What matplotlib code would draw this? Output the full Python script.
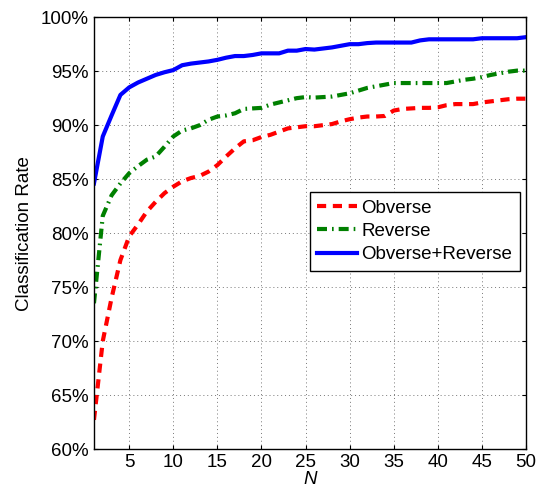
import matplotlib
matplotlib.use("Agg")
import matplotlib.pyplot as plt
from matplotlib.ticker import FuncFormatter

plt.rcParams['font.family'] = ['Liberation Sans', 'DejaVu Sans']

N = list(range(1, 51))
obverse = [62.7, 70.0, 74.0, 77.5, 79.7, 80.8, 82.0, 82.9, 83.7, 84.3,
           84.8, 85.1, 85.3, 85.7, 86.3, 87.1, 87.85, 88.5, 88.6, 88.9,
           89.1, 89.4, 89.7, 89.8, 89.9, 89.9, 90.0, 90.1, 90.35, 90.55,
           90.7, 90.8, 90.8, 90.85, 91.35, 91.5, 91.55, 91.6, 91.6, 91.65,
           91.85, 91.95, 91.95, 91.95, 92.1, 92.2, 92.3, 92.4, 92.45, 92.45]
reverse = [73.5, 81.6, 83.5, 84.6, 85.55, 86.2, 86.8, 87.1, 88.0, 88.95,
           89.5, 89.7, 90.0, 90.5, 90.8, 90.9, 91.1, 91.5, 91.55, 91.6,
           91.9, 92.1, 92.3, 92.5, 92.6, 92.55, 92.6, 92.65, 92.8, 92.95,
           93.2, 93.45, 93.6, 93.75, 93.9, 93.9, 93.9, 93.9, 93.9, 93.9,
           93.9, 94.05, 94.2, 94.3, 94.45, 94.65, 94.8, 94.95, 95.05, 95.05]
combined = [84.6, 88.95, 90.9, 92.8, 93.5, 93.95, 94.3, 94.65, 94.9, 95.1,
            95.55, 95.7, 95.8, 95.9, 96.05, 96.25, 96.4, 96.4, 96.5, 96.65,
            96.65, 96.65, 96.9, 96.9, 97.05, 97.0, 97.1, 97.2, 97.35, 97.5,
            97.5, 97.6, 97.65, 97.65, 97.65, 97.65, 97.65, 97.85, 97.95, 97.95,
            97.95, 97.95, 97.95, 97.95, 98.05, 98.05, 98.05, 98.05, 98.05, 98.15]
labels = ['Obverse', 'Reverse', 'Obverse+Reverse']
xticks = [5, 10, 15, 20, 25, 30, 35, 40, 45, 50]
yticks = [60, 65, 70, 75, 80, 85, 90, 95, 100]

fig = plt.figure(figsize=(5.4, 4.91), dpi=100)
ax = fig.add_axes([0.174, 0.0855, 0.8, 0.8795])

ax.plot(N, obverse, color='#ff0000', linestyle=(0, (2.2, 1.6)), linewidth=3, label=labels[0])
ax.plot(N, reverse, color='#008000', linestyle=(0, (2.4, 1.2, 0.4, 1.2)), linewidth=3, label=labels[1])
ax.plot(N, combined, color='#0000ff', linestyle='-', linewidth=3, label=labels[2])

ax.set_xlim(1, 50)
ax.set_ylim(60, 100)
ax.set_xticks(xticks)
ax.set_yticks(yticks)
ax.yaxis.set_major_formatter(FuncFormatter(lambda v, p: f"{int(v)}%"))
ax.tick_params(direction='in', top=True, right=True, labelsize=13.5, length=3, width=0.8)
ax.grid(True, linestyle=(0, (1, 3)), color='#777777', linewidth=0.7)
for s in ax.spines.values():
    s.set_linewidth(1.0)

ax.set_xlabel('N', fontsize=13.5, style='italic', labelpad=0)
ax.set_ylabel('Classification Rate', fontsize=13.5, labelpad=6)

leg = ax.legend(loc='lower right', bbox_to_anchor=(0.986, 0.413), fontsize=13.5,
                fancybox=False, framealpha=1, edgecolor='black', borderaxespad=0,
                handlelength=2.1, handletextpad=0.25, labelspacing=0.32, borderpad=0.4)
leg.get_frame().set_linewidth(1.0)

fig.savefig('out.png', dpi=100)
